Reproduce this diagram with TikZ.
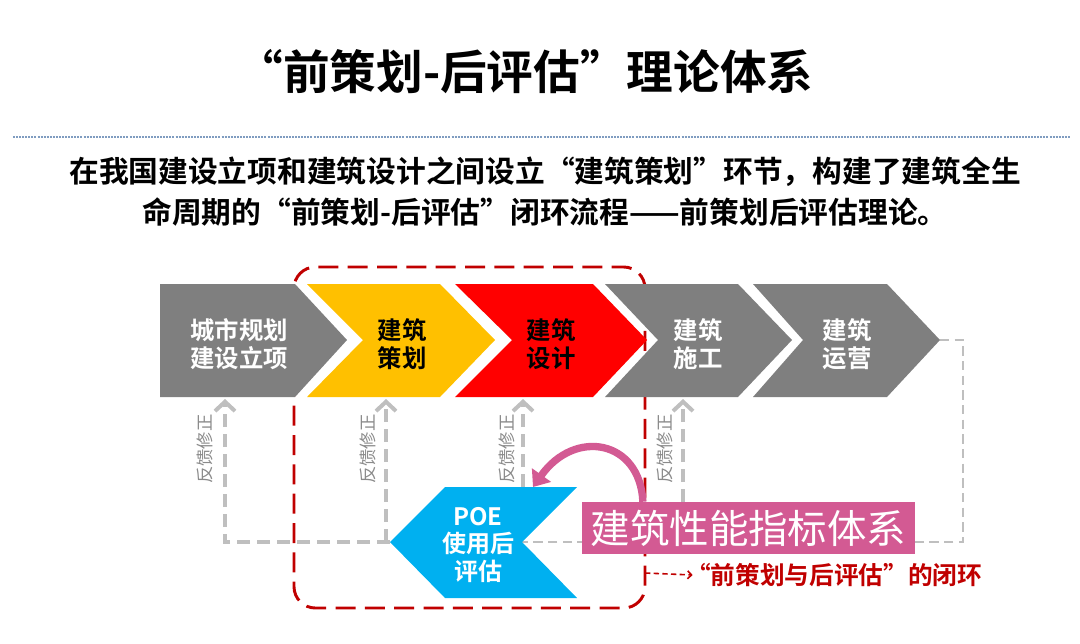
\documentclass[tikz,border=0pt]{standalone}
\usepackage{fontspec}
\setmainfont{Noto Sans CJK SC}[BoldFont={Noto Sans CJK SC Bold}]
\usetikzlibrary{arrows.meta}

\definecolor{stagegray}{HTML}{7F7F7F}
\definecolor{stageyellow}{HTML}{FFC000}
\definecolor{stagered}{HTML}{FF0000}
\definecolor{poeblue}{HTML}{00B0F0}
\definecolor{indexpink}{HTML}{D35A93}
\definecolor{closured}{HTML}{C00000}
\definecolor{fbgray}{HTML}{BFBFBF}
\definecolor{notegray}{HTML}{8A8A8A}
\definecolor{rulegray}{HTML}{7F9CC0}

\begin{document}
\begin{tikzpicture}[
    x=0.75pt, y=-0.75pt,
    title text/.style={font=\fontsize{35}{40}\selectfont\bfseries, inner sep=0pt},
    lead text/.style={font=\fontsize{22.3}{30.8}\selectfont\bfseries,
        align=center, inner sep=0pt},
    rule/.style={draw=rulegray, line width=1pt, dash pattern=on 1.5pt off 0.8pt},
    stage label/.style={font=\fontsize{18.3}{21}\selectfont\bfseries,
        align=center, inner sep=0pt},
    poe label/.style={font=\fontsize{18}{20.3}\selectfont\bfseries,
        align=center, inner sep=0pt, text=white},
    feedback/.style={draw=fbgray, line width=3.6pt, dash pattern=on 10pt off 5pt,
        -{Straight Barb[length=7pt, width=15pt, line width=3pt]}},
    loop line/.style={draw=fbgray, line width=2.2pt, dash pattern=on 7pt off 4pt},
    fb label/.style={font=\fontsize{13}{14}\selectfont, text=notegray,
        rotate=90, inner sep=0pt},
    closure/.style={draw=closured, line width=2.2pt, dash pattern=on 15pt off 7pt,
        rounded corners=16pt},
    closure arrow/.style={draw=closured, line width=1.2pt,
        dash pattern=on 4pt off 2.5pt, -{Straight Barb[length=3pt, width=6pt]}},
    index box/.style={fill=indexpink, text=white, inner sep=0pt,
        minimum width=250pt, minimum height=39pt,
        font=\fontsize{29.6}{32}\selectfont},
    index arrow/.style={draw=indexpink, line width=5.5pt,
        -{Triangle[length=11pt, width=17pt]}},
    closure note/.style={font=\fontsize{18.5}{20}\selectfont\bfseries,
        text=closured, inner sep=0pt, anchor=west}
]
\useasboundingbox (0,0) rectangle (1080,643);

% heading
\node[title text] (title) at (525,72) {“前策划-后评估”理论体系};
\draw[rule] (13,137) -- (1070,137);
\node[lead text] (lead) at (545,192)
    {在我国建设立项和建筑设计之间设立“建筑策划”环节，构建了建筑全生\\
     命周期的“前策划-后评估”闭环流程——前策划后评估理论。};

% anchor points
\coordinate (plan-fb) at (225,399);
\coordinate (brief-fb) at (386,399);
\coordinate (design-fb) at (523,399);
\coordinate (build-fb) at (683,399);
\coordinate (ops-tip) at (940,340);
\coordinate (poe-tip) at (390,542);
\coordinate (poe-notch) at (522,542);

% feedback loops (drawn behind everything)
\draw[loop line] (ops-tip) -- (963,340) |- (poe-notch);
\draw[feedback] (poe-tip) -| (plan-fb);
\draw[feedback] (poe-tip -| brief-fb) -- (brief-fb);
\draw[feedback] (523,487) -- (design-fb);
\draw[feedback] (683,502) -- (build-fb);

\node[fb label] (plan-note) at (205,449) {反馈修正};
\node[fb label] (brief-note) at (368,449) {反馈修正};
\node[fb label] (design-note) at (507,449) {反馈修正};
\node[fb label] (build-note) at (665,449) {反馈修正};

% the closed loop
\draw[closure] (294,267) rectangle (645,608);

% stages
\fill[stagegray] (160,284) -- (295,284) -- (347,340) -- (295,397)
    -- (160,397) -- cycle;
\fill[stageyellow] (307,284) -- (440,284) -- (495,340) -- (440,397)
    -- (307,397) -- (363,340) -- cycle;
\fill[stagered] (455,284) -- (593,284) -- (647,340) -- (593,397)
    -- (455,397) -- (512,340) -- cycle;
\fill[stagegray] (605,284) -- (738,284) -- (792,340) -- (738,397)
    -- (605,397) -- (658,340) -- cycle;
\fill[stagegray] (753,284) -- (887,284) -- (ops-tip) -- (887,397)
    -- (753,397) -- (803,340) -- cycle;

\node[stage label, text=white] (plan) at (239,344) {城市规划\\建设立项};
\node[stage label] (brief) at (402,344) {建筑\\策划};
\node[stage label] (design) at (551,344) {建筑\\设计};
\node[stage label, text=white] (build) at (698,344) {建筑\\施工};
\node[stage label, text=white] (ops) at (847,344) {建筑\\运营};

% POE
\fill[poeblue] (poe-tip) -- (445,487) -- (577,487) -- (poe-notch)
    -- (577,598) -- (445,598) -- cycle;
\node[poe label] (poe) at (478,545) {POE\\使用后\\评估};

% performance index
\node[index box] (index) at (748.5,528) {建筑性能指标体系};
\draw[index arrow] ([xshift=46pt]index.north west)
    .. controls (640,440) and (575,428) .. (533,487);

\node[closure note] (loop-note) at (686,575) {“前策划与后评估”的闭环};
\draw[closure arrow] (645,573) -- ([xshift=5pt]loop-note.west);

\end{tikzpicture}
\end{document}
